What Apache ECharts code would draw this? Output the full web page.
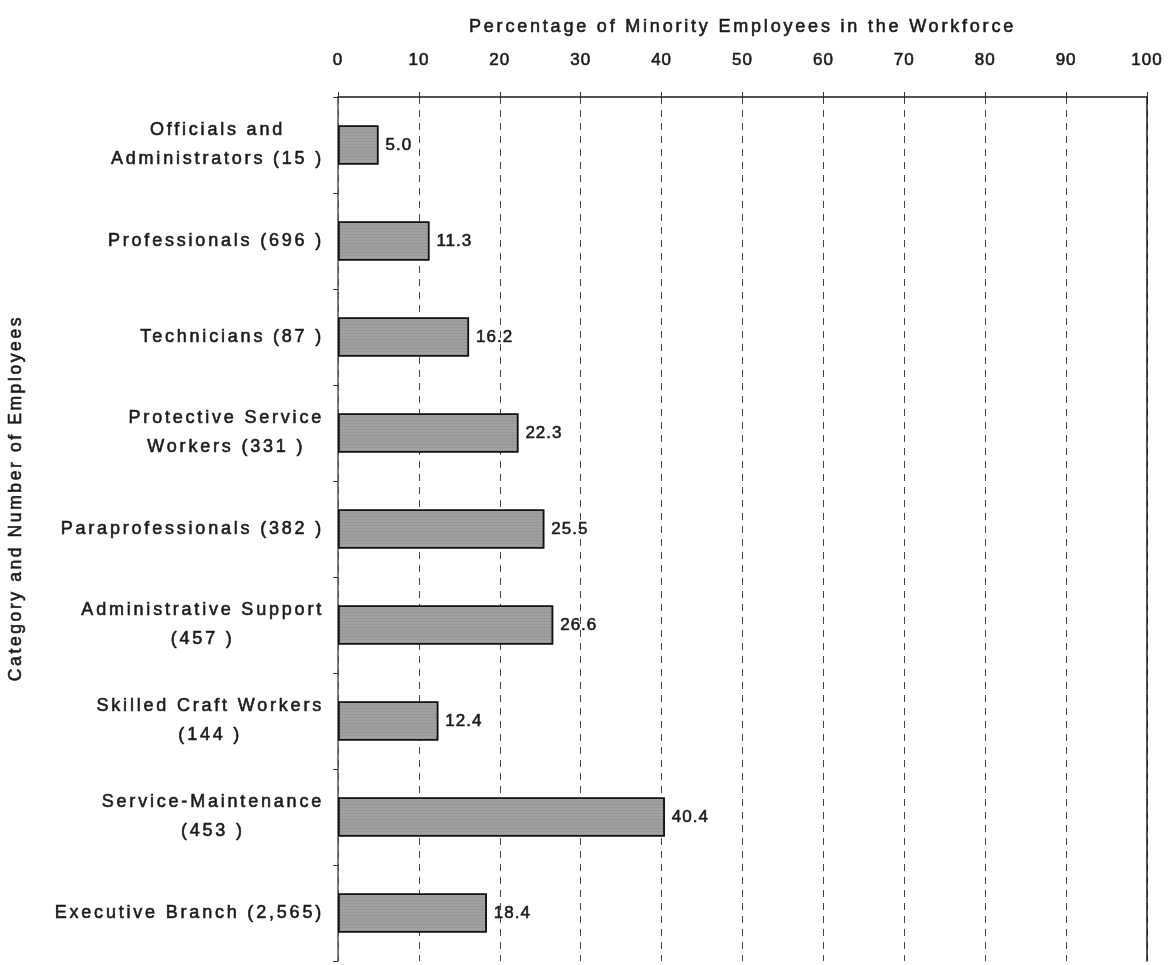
<!DOCTYPE html>
<html>
<head>
<meta charset="utf-8">
<script src="https://cdn.jsdelivr.net/npm/echarts@6/dist/echarts.min.js"></script>
<style>html,body{margin:0;padding:0;background:#fff}#chart{width:1169px;height:965px}</style>
</head>
<body>
<div id="chart"></div>
<script>
// Data
const categories = [
  'Officials and\nAdministrators (15 )',
  'Professionals (696 )',
  'Technicians (87 )',
  'Protective Service\nWorkers (331 )',
  'Paraprofessionals (382 )',
  'Administrative Support\n(457 )',
  'Skilled Craft Workers\n(144 )',
  'Service-Maintenance\n(453 )',
  'Executive Branch (2,565)'
];
const percentMinority = [5.0, 11.3, 16.2, 22.3, 25.5, 26.6, 12.4, 40.4, 18.4];
const xAxisTitle = 'Percentage of Minority Employees in the Workforce';
const yAxisTitle = 'Category and Number of Employees';

// Letter-spaced text as in the original typeset chart (spacing chosen by font size)
const P = CanvasRenderingContext2D.prototype;
const origFill = P.fillText, origStroke = P.strokeText, origMeasure = P.measureText;
function spacingFor(font) {
  const m = /(\d+(?:\.\d+)?)px/.exec(font || '');
  const s = m ? parseFloat(m[1]) : 12;
  if (s === 17) return '1px';
  if (s === 17.5) return '2.6px';
  if (s === 18) return '2.8px';
  return '0px';
}
P.fillText = function (t, x, y, w) { this.letterSpacing = spacingFor(this.font); return w === undefined ? origFill.call(this, t, x, y) : origFill.call(this, t, x, y, w); };
P.strokeText = function (t, x, y, w) { this.letterSpacing = spacingFor(this.font); return w === undefined ? origStroke.call(this, t, x, y) : origStroke.call(this, t, x, y, w); };
P.measureText = function (t) { this.letterSpacing = spacingFor(this.font); return origMeasure.call(this, t); };

const FONT = "'Liberation Sans', Arial, sans-serif";
const TXT = '#1a1a1a';
const BOLDEN = { textBorderColor: '#2a2a2a', textBorderWidth: 0.6 };

const chart = echarts.init(document.getElementById('chart'), null, { renderer: 'canvas' });
chart.setOption({
  backgroundColor: '#ffffff',
  animation: false,
  textStyle: { fontFamily: FONT },
  grid: { left: 338, right: 22, top: 97, bottom: 4, containLabel: false },
  xAxis: {
    type: 'value', position: 'top', min: 0, max: 100, interval: 10,
    name: xAxisTitle, nameLocation: 'middle', nameGap: 60,
    nameTextStyle: Object.assign({ fontSize: 18, color: TXT, fontFamily: FONT }, BOLDEN),
    axisLine: { show: true, lineStyle: { color: '#1a1a1a', width: 1.5 } },
    axisTick: { show: true, length: 5, lineStyle: { color: '#333', width: 1 } },
    axisLabel: Object.assign({ fontSize: 17, color: TXT, margin: 28, fontFamily: FONT }, BOLDEN),
    splitLine: { show: true, lineStyle: { color: '#444', width: 1, type: [7, 6] } }
  },
  yAxis: [{
    type: 'category', data: categories, inverse: true,
    axisLine: { show: true, lineStyle: { color: '#555', width: 1.5 } },
    axisTick: { show: true, length: 5, lineStyle: { color: '#333' } },
    axisLabel: {
      margin: 14, fontSize: 18, color: TXT, fontFamily: FONT, lineHeight: 29,
      formatter: function (v) { return v.split('\n').map(function (l) { return '{c|' + l + '}'; }).join('\n'); },
      rich: { c: Object.assign({ align: 'center', fontSize: 18, color: TXT, fontFamily: FONT, lineHeight: 29 }, BOLDEN) }
    },
    splitLine: { show: false }
  }, {
    type: 'category', data: categories, inverse: true, position: 'right',
    axisLine: { show: true, lineStyle: { color: '#1a1a1a', width: 1.5 } },
    axisTick: { show: false }, axisLabel: { show: false }, splitLine: { show: false }
  }],
  graphic: [{
    type: 'text', x: 16, y: 498, rotation: Math.PI / 2,
    style: { text: yAxisTitle, fontSize: 17.5, fill: TXT, stroke: '#2a2a2a', lineWidth: 0.6, fontFamily: FONT, align: 'center', verticalAlign: 'middle' }
  }],
  series: [{
    type: 'bar', data: percentMinority, barWidth: 39,
    itemStyle: {
      color: '#a0a0a0', borderColor: '#111', borderWidth: 1.5,
      decal: { symbol: 'rect', symbolSize: 1, dashArrayX: [1, 1], dashArrayY: [1, 2], color: 'rgba(80,80,80,0.25)' }
    },
    label: Object.assign({
      show: true, position: 'right', distance: 7, fontSize: 17, color: TXT, fontFamily: FONT,
      formatter: function (p) { return p.value.toFixed(1); }
    }, BOLDEN)
  }]
});
</script>
</body>
</html>
